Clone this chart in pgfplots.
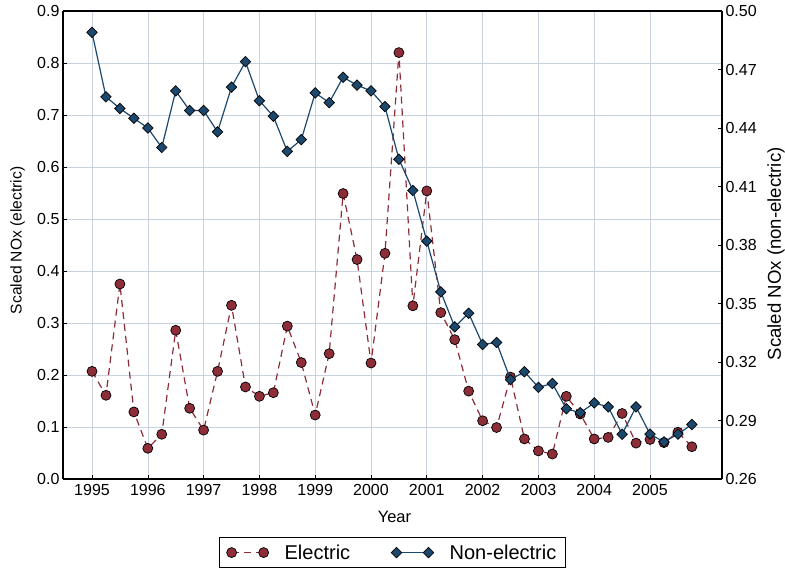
\documentclass[border=0pt]{standalone}
\usepackage{pgfplots}
\pgfplotsset{compat=1.18}
\usepackage{fontspec}
\setmainfont{Liberation Sans}
\definecolor{elec}{RGB}{140,45,56}
\definecolor{nonel}{RGB}{28,72,110}
\definecolor{gridc}{RGB}{200,210,224}
\begin{document}
\begin{tikzpicture}[x=1pt,y=1pt]
\pgfplotsset{
  every axis/.append style={
    scale only axis, width=659pt, height=468pt,
    xmin=1994.48, xmax=2006.29,
    axis line style={line width=1.6pt},
    tick style={black, line width=0.6pt},
    major tick length=4pt,
    tick align=inside,
    tick label style={font=\fontsize{16}{18}\selectfont},
    /pgf/number format/assume math mode=true,
  },
}
\begin{axis}[
  axis x line*=bottom, axis y line*=left,
  ymin=0, ymax=0.9,
  ytick={0,0.1,...,0.9},
  yticklabel style={/pgf/number format/.cd, fixed, fixed zerofill, precision=1},
  xtick={1995,...,2005},
  xticklabel style={yshift=-2pt, /pgf/number format/.cd, set thousands separator={}},
  grid=major, major grid style={gridc, line width=0.6pt},
  xlabel={Year}, ylabel={Scaled NOx (electric)},
  xlabel style={font=\fontsize{16.5}{18}\selectfont, at={(axis description cs:0.503,-0.082)}, anchor=center},
  ylabel style={font=\fontsize{15.6}{18}\selectfont, at={(axis description cs:-0.069,0.51)}, anchor=center},
  legend style={at={(axis description cs:0.5,0)}, anchor=north, yshift=-58pt,
    legend columns=2, draw=black, line width=1.2pt,
    font=\fontsize{20}{22}\selectfont,
    /tikz/every odd column/.append style={column sep=14pt},
    /tikz/every even column/.append style={column sep=39pt},
    inner xsep=7pt, inner ysep=5pt},
  legend image code/.code={\draw[#1] plot coordinates {(0pt,0pt) (32pt,0pt)};},
]
\addplot[elec, line width=1.2pt, dash pattern=on 7pt off 5pt,
  mark=*, mark size=5pt, mark options={solid, fill=elec, draw=black, line width=0.7pt}]
coordinates {
(1995.00,0.207)(1995.25,0.161)(1995.50,0.375)(1995.75,0.129)
(1996.00,0.059)(1996.25,0.086)(1996.50,0.286)(1996.75,0.136)
(1997.00,0.094)(1997.25,0.207)(1997.50,0.334)(1997.75,0.177)
(1998.00,0.159)(1998.25,0.166)(1998.50,0.294)(1998.75,0.224)
(1999.00,0.123)(1999.25,0.241)(1999.50,0.549)(1999.75,0.422)
(2000.00,0.223)(2000.25,0.434)(2000.50,0.820)(2000.75,0.333)
(2001.00,0.554)(2001.25,0.320)(2001.50,0.268)(2001.75,0.169)
(2002.00,0.112)(2002.25,0.099)(2002.50,0.196)(2002.75,0.077)
(2003.00,0.054)(2003.25,0.048)(2003.50,0.159)(2003.75,0.125)
(2004.00,0.077)(2004.25,0.080)(2004.50,0.126)(2004.75,0.069)
(2005.00,0.076)(2005.25,0.070)(2005.50,0.090)(2005.75,0.062)
};
\addlegendentry{Electric}
\addlegendimage{nonel, line width=1.2pt, mark=square*, mark size=3.7pt, mark options={rotate=45, fill=nonel, draw=black, line width=0.7pt}}
\addlegendentry{Non-electric}
\end{axis}
\begin{axis}[
  axis x line=none, axis y line*=right,
  ymin=0.26, ymax=0.50,
  ytick={0.26,0.29,...,0.50},
  yticklabel style={/pgf/number format/.cd, fixed, fixed zerofill, precision=2},
  ylabel={Scaled NOx (non-electric)},
  ylabel style={font=\fontsize{18.6}{20}\selectfont, at={(axis description cs:1.082,0.481)}, anchor=center},
]
\addplot[nonel, line width=1.2pt,
  mark=square*, mark size=3.7pt, mark options={rotate=45, fill=nonel, draw=black, line width=0.7pt}]
coordinates {
(1995.00,0.489)(1995.25,0.456)(1995.50,0.450)(1995.75,0.445)
(1996.00,0.440)(1996.25,0.430)(1996.50,0.459)(1996.75,0.449)
(1997.00,0.449)(1997.25,0.438)(1997.50,0.461)(1997.75,0.474)
(1998.00,0.454)(1998.25,0.446)(1998.50,0.428)(1998.75,0.434)
(1999.00,0.458)(1999.25,0.453)(1999.50,0.466)(1999.75,0.462)
(2000.00,0.459)(2000.25,0.451)(2000.50,0.424)(2000.75,0.408)
(2001.00,0.382)(2001.25,0.356)(2001.50,0.338)(2001.75,0.345)
(2002.00,0.329)(2002.25,0.330)(2002.50,0.311)(2002.75,0.315)
(2003.00,0.307)(2003.25,0.309)(2003.50,0.296)(2003.75,0.294)
(2004.00,0.299)(2004.25,0.297)(2004.50,0.283)(2004.75,0.297)
(2005.00,0.283)(2005.25,0.279)(2005.50,0.283)(2005.75,0.288)
};
\end{axis}
\draw[line width=1.6pt] (0,468) -- (659,468);
\pgfresetboundingbox
\path[use as bounding box] (-63,-94) rectangle (722,479);
\end{tikzpicture}
\end{document}
